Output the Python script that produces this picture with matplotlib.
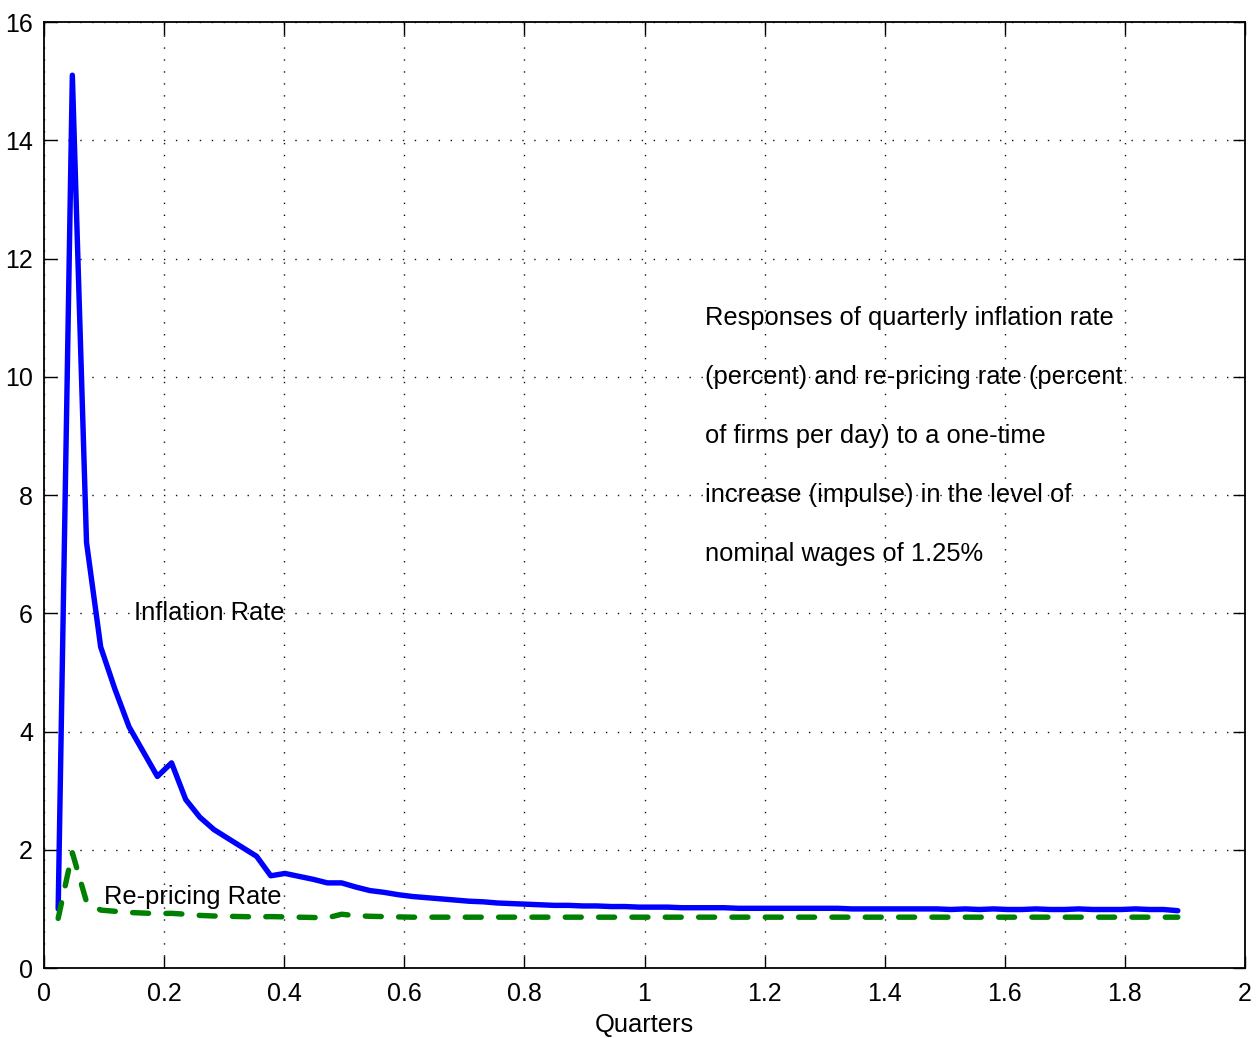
import numpy as np
import matplotlib
matplotlib.use("Agg")
import matplotlib.pyplot as plt
from matplotlib.ticker import FuncFormatter

plt.rcParams['font.family'] = ['Liberation Sans', 'DejaVu Sans']
plt.rcParams['lines.scale_dashes'] = False

# ---- data ----
step = 0.0236  # quarters per period
inflation = [
    1.00, 15.10, 7.20, 5.43, 4.72, 4.08, 3.66, 3.24, 3.47, 2.85,
    2.55, 2.34, 2.19, 2.04, 1.89, 1.56, 1.60, 1.55, 1.50, 1.44,
    1.44, 1.37, 1.31, 1.28, 1.24, 1.21, 1.19, 1.17, 1.15, 1.13,
    1.12, 1.10, 1.09, 1.08, 1.07, 1.06, 1.06, 1.05, 1.05, 1.04,
    1.04, 1.03, 1.03, 1.03, 1.02, 1.02, 1.02, 1.02, 1.01, 1.01,
    1.01, 1.01, 1.01, 1.01, 1.01, 1.01, 1.00, 1.00, 1.00, 1.00,
    1.00, 1.00, 1.00, 0.99, 1.00, 0.99, 1.00, 0.99, 0.99, 1.00,
    0.99, 0.99, 1.00, 0.99, 0.99, 0.99, 1.00, 0.99, 0.99, 0.97,
]
repricing = [
    0.84, 1.95, 1.12, 0.98, 0.96, 0.94, 0.93, 0.92, 0.925, 0.91,
    0.89, 0.88, 0.875, 0.87, 0.865, 0.87, 0.865, 0.86, 0.855, 0.85,
    0.91, 0.885, 0.875, 0.87, 0.865, 0.86, 0.86, 0.86, 0.86, 0.86,
    0.86, 0.86, 0.86, 0.86, 0.86, 0.86, 0.86, 0.86, 0.86, 0.86,
    0.86, 0.86, 0.86, 0.86, 0.86, 0.86, 0.86, 0.86, 0.86, 0.86,
    0.86, 0.86, 0.86, 0.86, 0.86, 0.86, 0.86, 0.86, 0.86, 0.86,
    0.86, 0.86, 0.86, 0.86, 0.86, 0.86, 0.86, 0.86, 0.86, 0.86,
    0.86, 0.86, 0.86, 0.86, 0.86, 0.86, 0.86, 0.86, 0.86, 0.86,
]
quarters = step * np.arange(1, len(inflation) + 1)

x_ticks = [0, 0.2, 0.4, 0.6, 0.8, 1.0, 1.2, 1.4, 1.6, 1.8, 2.0]
y_ticks = [0, 2, 4, 6, 8, 10, 12, 14, 16]

note_lines = [
    "Responses of quarterly inflation rate",
    "(percent) and re-pricing rate (percent",
    "of firms per day) to a one-time",
    "increase (impulse) in the level of",
    "nominal wages of 1.25%",
]
note_y = [11, 10, 9, 8, 7]

# ---- figure ----
fig = plt.figure(figsize=(12.57, 10.38), dpi=100)
ax = fig.add_axes([0.035, 0.0674, 0.9555, 0.9114])

ax.plot(quarters, inflation, color=(0, 0, 1), lw=3.9,
        solid_capstyle='round', solid_joinstyle='round', zorder=3)
ax.plot(quarters, repricing, color=(0, 0.5, 0), lw=3.9,
        dashes=(11.5, 12.5), dash_capstyle='round',
        dash_joinstyle='round', zorder=3)

ax.set_xlim(0, 2)
ax.set_ylim(0, 16)
ax.set_xticks(x_ticks)
ax.set_yticks(y_ticks)
ax.xaxis.set_major_formatter(FuncFormatter(lambda v, p: "%g" % v))
ax.yaxis.set_major_formatter(FuncFormatter(lambda v, p: "%g" % v))
ax.tick_params(direction='in', length=9, width=1, top=True, right=True,
               labelsize=18, colors='black')
ax.tick_params(axis='x', pad=10)
ax.tick_params(axis='y', pad=8)
for s in ax.spines.values():
    s.set_linewidth(1.3)
    s.set_color('black')

ax.grid(True, color='#111111', lw=1.0, linestyle=(0, (1.0, 7.6)))
ax.set_axisbelow(True)

ax.set_xlabel("Quarters", fontsize=18.4, labelpad=5)

ax.text(0.15, 6.0, "Inflation Rate", fontsize=18.4, va='center', ha='left')
ax.text(0.10, 1.2, "Re-pricing Rate", fontsize=18.4, va='center', ha='left')
for line, yy in zip(note_lines, note_y):
    ax.text(1.1, yy, line, fontsize=18.4, va='center', ha='left')

fig.savefig("out.png", dpi=100)
